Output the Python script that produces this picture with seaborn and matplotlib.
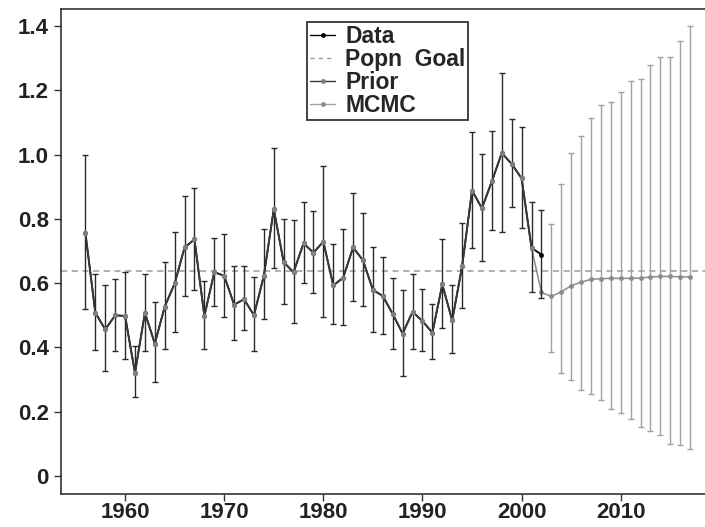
import numpy as np
import pandas as pd
import matplotlib
matplotlib.use("Agg")
import matplotlib.pyplot as plt
import seaborn as sns
from matplotlib.lines import Line2D

# observed series with intervals
data_years = list(range(1956, 2003))
data_mean = [0.756, 0.508, 0.456, 0.500, 0.498, 0.321, 0.508, 0.412, 0.527, 0.599,
             0.711, 0.736, 0.498, 0.634, 0.623, 0.533, 0.550, 0.500, 0.623, 0.830,
             0.665, 0.634, 0.724, 0.695, 0.729, 0.593, 0.617, 0.711, 0.671, 0.579,
             0.560, 0.504, 0.443, 0.511, 0.482, 0.446, 0.596, 0.484, 0.653, 0.888,
             0.833, 0.917, 1.005, 0.971, 0.926, 0.710, 0.689]
data_upper = [0.998, 0.630, 0.593, 0.613, 0.634, 0.404, 0.630, 0.540, 0.665, 0.758,
              0.870, 0.895, 0.608, 0.742, 0.752, 0.652, 0.652, 0.619, 0.770, 1.021,
              0.800, 0.796, 0.851, 0.826, 0.964, 0.721, 0.767, 0.882, 0.817, 0.713,
              0.682, 0.615, 0.578, 0.630, 0.581, 0.535, 0.738, 0.595, 0.788, 1.071,
              1.002, 1.074, 1.253, 1.112, 1.085, 0.853, 0.829]
data_lower = [0.520, 0.392, 0.328, 0.390, 0.365, 0.247, 0.390, 0.291, 0.395, 0.447,
              0.561, 0.580, 0.394, 0.529, 0.496, 0.422, 0.453, 0.388, 0.487, 0.648,
              0.536, 0.477, 0.601, 0.570, 0.496, 0.474, 0.470, 0.546, 0.530, 0.447,
              0.441, 0.394, 0.311, 0.395, 0.388, 0.364, 0.459, 0.382, 0.522, 0.709,
              0.669, 0.765, 0.760, 0.837, 0.772, 0.574, 0.555]

# prior follows the data up to 2001
prior_years = list(range(1956, 2002))
prior_mean = data_mean[:-1]

# MCMC projection
mcmc_years = list(range(2001, 2018))
mcmc_mean = [0.710, 0.571, 0.559, 0.573, 0.592, 0.603, 0.612, 0.614, 0.615,
             0.615, 0.615, 0.616, 0.619, 0.621, 0.621, 0.620, 0.619]
mcmc_bar_years = list(range(2003, 2018))
mcmc_upper = [0.783, 0.910, 1.006, 1.058, 1.114, 1.155, 1.163, 1.194, 1.228,
              1.236, 1.279, 1.303, 1.303, 1.353, 1.401]
mcmc_lower = [0.387, 0.319, 0.299, 0.267, 0.254, 0.238, 0.210, 0.195, 0.178,
              0.153, 0.141, 0.129, 0.100, 0.095, 0.084]

popn_goal = 0.638


def main():
    sns.set_style("ticks")
    plt.rcParams["font.family"] = ["Liberation Sans", "DejaVu Sans"]
    plt.rcParams["font.weight"] = "bold"

    fig = plt.figure(figsize=(7.05, 5.27), dpi=100)
    ax = fig.add_axes([0.0870, 0.0620, 0.9130, 0.9209])

    df_data = pd.DataFrame({"year": data_years, "mean": data_mean,
                            "upper": data_upper, "lower": data_lower})
    df_prior = pd.DataFrame({"year": prior_years, "mean": prior_mean})
    df_mcmc = pd.DataFrame({"year": mcmc_years, "mean": mcmc_mean})
    df_bars = pd.DataFrame({"year": mcmc_bar_years, "upper": mcmc_upper, "lower": mcmc_lower})
    df_bars = df_bars.merge(df_mcmc, on="year")

    ax.axhline(popn_goal, color="#9a9a9a", lw=1.1, ls=(0, (4, 3)), zorder=1)

    # MCMC bars and line
    ax.errorbar(df_bars["year"], df_bars["mean"],
                yerr=[df_bars["mean"] - df_bars["lower"], df_bars["upper"] - df_bars["mean"]],
                fmt="none", ecolor="#a0a0a0", elinewidth=1, capsize=2.2, capthick=1, zorder=2)
    sns.lineplot(data=df_mcmc, x="year", y="mean", ax=ax, color="#8c8c8c", lw=1.1,
                 marker="o", markersize=3.5, markeredgewidth=0, zorder=3)

    # data bars
    ax.errorbar(df_data["year"], df_data["mean"],
                yerr=[df_data["mean"] - df_data["lower"], df_data["upper"] - df_data["mean"]],
                fmt="none", ecolor="#2a2a2a", elinewidth=1, capsize=2.2, capthick=1, zorder=4)
    sns.lineplot(data=df_data, x="year", y="mean", ax=ax, color="black", lw=1.3,
                 marker="o", markersize=3.5, markeredgewidth=0, zorder=5)
    sns.lineplot(data=df_prior, x="year", y="mean", ax=ax, color="#3a3a3a", lw=1.3,
                 marker="o", markersize=3.8, markerfacecolor="#808080",
                 markeredgewidth=0, zorder=6)

    ax.set_xlim(1953.57, 2018.5)
    ax.set_ylim(-0.057, 1.453)
    ax.set_xticks([1960, 1970, 1980, 1990, 2000, 2010])
    ax.set_yticks([0, 0.2, 0.4, 0.6, 0.8, 1.0, 1.2, 1.4])
    ax.set_yticklabels(["0", "0.2", "0.4", "0.6", "0.8", "1.0", "1.2", "1.4"])
    ax.set_xlabel("")
    ax.set_ylabel("")
    ax.tick_params(axis="both", labelsize=16, length=5, width=1, color="#333333",
                   labelcolor="#222222")
    ax.tick_params(axis="y", pad=4)
    ax.tick_params(axis="x", pad=0.5)
    for lab in ax.get_xticklabels() + ax.get_yticklabels():
        lab.set_fontweight("bold")

    for side in ["left", "bottom", "top"]:
        ax.spines[side].set_visible(True)
        ax.spines[side].set_color("#333333")
        ax.spines[side].set_linewidth(1.2)
    ax.spines["right"].set_visible(False)

    handles = [
        Line2D([], [], color="black", lw=1, marker="o", markersize=3.5, markeredgewidth=0),
        Line2D([], [], color="#9a9a9a", lw=1, ls=(0, (3, 3))),
        Line2D([], [], color="#3a3a3a", lw=1, marker="o", markersize=3.5,
               markerfacecolor="#808080", markeredgewidth=0),
        Line2D([], [], color="#a0a0a0", lw=1, marker="o", markersize=3.5,
               markerfacecolor="#8c8c8c", markeredgewidth=0),
    ]
    labels = ["Data", "Popn  Goal", "Prior", "MCMC"]
    leg = ax.legend(handles, labels, loc="upper left", bbox_to_anchor=(0.382, 0.973),
                    prop={"size": 16.5, "weight": "bold"}, frameon=True, fancybox=False,
                    handlelength=1.1, handletextpad=0.45, labelspacing=0.0,
                    borderpad=0.12, borderaxespad=0)
    leg.get_frame().set_edgecolor("#222222")
    leg.get_frame().set_linewidth(1.2)
    leg.get_frame().set_alpha(1)

    plt.savefig("out.png", dpi=100)


if __name__ == '__main__':
    main()
